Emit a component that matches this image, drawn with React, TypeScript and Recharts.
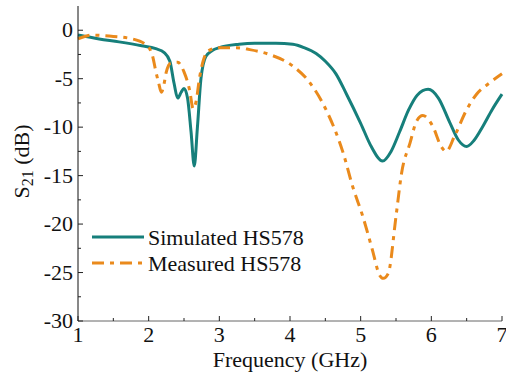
import React from "react";
import {
  LineChart,
  Line,
  XAxis,
  YAxis,
  Label,
} from "recharts";

// simulated S21 (GHz, dB)
const simFreq = [
  1.0, 1.3, 1.58, 1.9, 2.1, 2.22, 2.3, 2.36, 2.41, 2.46, 2.5, 2.55, 2.6, 2.645,
  2.69, 2.74, 2.81, 2.9, 3.0, 3.28, 3.5, 3.8, 4.04, 4.2, 4.37, 4.5, 4.65, 4.8,
  5.0, 5.15, 5.31, 5.43, 5.55, 5.68, 5.8, 5.955, 6.1, 6.26, 6.38, 6.5, 6.6,
  6.73, 6.86, 7.0,
];
const simS21 = [
  -0.5, -0.9, -1.2, -1.6, -1.9, -2.3, -3.2, -5.5, -7.0, -6.4, -6.0, -7.0, -10.5,
  -14.0, -10, -5, -2.7, -2.1, -1.8, -1.45, -1.35, -1.35, -1.45, -1.8, -2.4,
  -3.2, -4.5, -6.6, -9.6, -12, -13.5, -12.5, -10.5, -8.2, -6.7, -6.1, -7.0,
  -9.5, -11.3, -12, -11.4, -9.9, -8.2, -6.6,
];

// measured S21 (GHz, dB)
const measFreq = [
  1.0, 1.2, 1.44, 1.77, 1.98, 2.06, 2.1, 2.14, 2.18, 2.21, 2.25, 2.31, 2.41,
  2.5, 2.58, 2.63, 2.67, 2.72, 2.77, 2.85, 3.0, 3.24, 3.43, 3.71, 4.04, 4.28,
  4.51, 4.75, 4.89, 5.03, 5.16, 5.27, 5.32, 5.39, 5.5, 5.58, 5.7, 5.79, 5.88,
  6.02, 6.14, 6.21, 6.33, 6.5, 6.64, 6.83, 7.0,
];
const measS21 = [
  -0.9, -0.5, -0.6, -0.9, -1.6, -2.8, -4.2, -5.4, -6.4, -5.8, -4.3, -3.4, -3.3,
  -4.3, -6.2, -8.1, -7.4, -4.9, -3.2, -2.1, -1.8, -1.8, -2.0, -2.5, -3.7, -5.4,
  -8.2, -12.6, -16.2, -19.2, -22.5, -25.3, -25.6, -25.1, -19.2, -14.7, -11.6,
  -9.4, -8.8, -9.9, -12.0, -12.5, -10.9, -8.2, -6.6, -5.4, -4.5,
];

const xTicks = [1, 1.5, 2, 2.5, 3, 3.5, 4, 4.5, 5, 5.5, 6, 6.5, 7];
const yTicks = [-30, -27.5, -25, -22.5, -20, -17.5, -15, -12.5, -10, -7.5, -5, -2.5, 0];

const simData = simFreq.map((f, i) => ({ f, v: simS21[i] }));
const measData = measFreq.map((f, i) => ({ f, v: measS21[i] }));

const TEAL = "#167f7b";
const ORANGE = "#ea8a1c";
const FONT = 'Liberation Serif, "Times New Roman", Tinos, "DejaVu Serif", serif';
const txt = { fontFamily: FONT, fontSize: 22 };

const series = [
  { name: "Simulated HS578", color: TEAL, dash: undefined },
  { name: "Measured HS578", color: ORANGE, dash: "12 6 4 6" },
];

const XTick = (props: any) => {
  const { x, y, payload } = props;
  const major = Number.isInteger(payload.value);
  return (
    <g>
      <line x1={x} x2={x} y1={y} y2={y - (major ? 5 : 3)} stroke="#222" />
      {major && (
        <text x={x} y={y + 21} textAnchor="middle" fontFamily={FONT} style={txt} fill="#111">
          {payload.value}
        </text>
      )}
    </g>
  );
};

const YTick = (props: any) => {
  const { x, y, payload } = props;
  const major = Number.isInteger(payload.value);
  return (
    <g>
      <line x1={x} x2={x + (major ? 5 : 3)} y1={y} y2={y} stroke="#222" />
      {major && (
        <text x={x - 5} y={y + 7} textAnchor="end" fontFamily={FONT} style={txt} fill="#111">
          {payload.value}
        </text>
      )}
    </g>
  );
};

const ChartLegend = () => (
  <svg width={280} height={60} style={{ position: "absolute", left: 90, top: 227 }}>
    {series.map((s, i) => (
      <g key={s.name}>
        <line
          x1={2}
          x2={54}
          y1={10 + i * 26}
          y2={10 + i * 26}
          stroke={s.color}
          strokeWidth={3}
          strokeDasharray={s.dash}
        />
        <text x={58} y={18 + i * 26} fontFamily={FONT} style={txt} fill="#111">
          {s.name}
        </text>
      </g>
    ))}
  </svg>
);

export default function App() {
  return (
    <div style={{ position: "absolute", left: 0, top: 0, width: 506, height: 374, background: "#fff", fontFamily: FONT }}>
      <LineChart width={506} height={374} margin={{ top: 6, right: 4, bottom: 0, left: 0 }}>
        <XAxis
          dataKey="f"
          type="number"
          domain={[1, 7]}
          ticks={xTicks}
          tick={<XTick />}
          tickSize={0}
          tickMargin={0}
          tickLine={false}
          height={53}
          stroke="#666"
        >
          <Label
            content={(p: any) => {
              const vb = p.viewBox;
              return (
                <text x={vb.x + vb.width / 2} y={vb.y + 46} textAnchor="middle" fontFamily={FONT} style={txt} fill="#111">
                  Frequency (GHz)
                </text>
              );
            }}
          />
        </XAxis>
        <XAxis xAxisId="top" orientation="top" type="number" domain={[1, 7]} height={0} tick={false} tickLine={false} stroke="#888" />
        <YAxis
          type="number"
          domain={[-30, 2.5]}
          ticks={yTicks}
          tick={<YTick />}
          tickSize={0}
          tickMargin={0}
          tickLine={false}
          width={78}
          stroke="#111"
          allowDataOverflow
        >
          <Label
            content={(p: any) => {
              const vb = p.viewBox;
              const cx = vb.x + 29;
              const cy = vb.y + vb.height / 2 - 2;
              return (
                <text x={cx} y={cy} textAnchor="middle" fontFamily={FONT} style={txt} fill="#111" transform={`rotate(-90 ${cx} ${cy})`}>
                  S<tspan style={{ fontSize: 16 }} dy={4}>21</tspan>
                  <tspan dy={-4}> (dB)</tspan>
                </text>
              );
            }}
          />
        </YAxis>
        <YAxis yAxisId="right" orientation="right" width={0} tick={false} tickLine={false} stroke="#888" />
        <Line
          data={simData}
          dataKey="v"
          name={series[0].name}
          type="monotone"
          stroke={TEAL}
          strokeWidth={3}
          dot={false}
          isAnimationActive={false}
        />
        <Line
          data={measData}
          dataKey="v"
          name={series[1].name}
          type="monotone"
          stroke={ORANGE}
          strokeWidth={3}
          strokeDasharray="12 6 4 6"
          dot={false}
          isAnimationActive={false}
        />
      </LineChart>
      <ChartLegend />
    </div>
  );
}
